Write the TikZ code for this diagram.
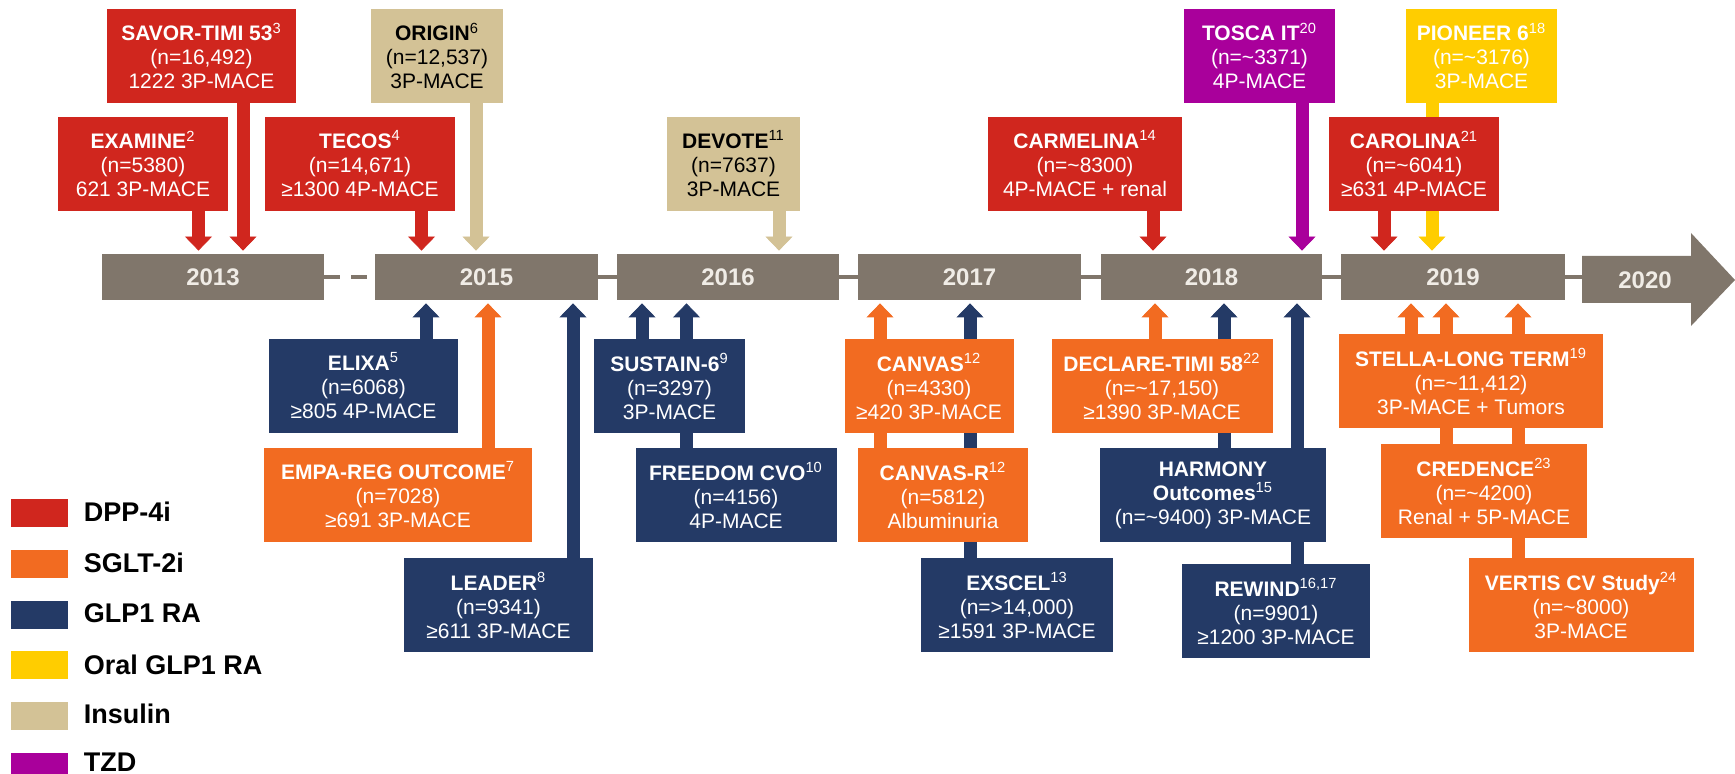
\documentclass[tikz,border=0pt]{standalone}
\usepackage{fontspec}
\setmainfont{Liberation Sans}
\usetikzlibrary{positioning, arrows.meta, backgrounds}

\definecolor{dppred}{RGB}{208,38,30}
\definecolor{sgltorange}{RGB}{242,107,33}
\definecolor{glpnavy}{RGB}{36,58,102}
\definecolor{oralyellow}{RGB}{255,205,0}
\definecolor{insulintan}{RGB}{211,194,150}
\definecolor{tzdpurple}{RGB}{169,0,155}
\definecolor{bargray}{RGB}{128,118,107}
\definecolor{yeartext}{RGB}{240,236,230}

\newcommand{\refmark}[1]{\textsuperscript{\mdseries #1}}

\begin{document}
\begin{tikzpicture}[x=0.5pt, y=-0.5pt,
	trial/.style={rectangle, inner sep=0pt, minimum height=47pt, align=center, text=white, font=\fontsize{10.5}{12}\selectfont},
	dppbox/.style={trial, fill=dppred},
	sgltbox/.style={trial, fill=sgltorange},
	glpbox/.style={trial, fill=glpnavy},
	oralbox/.style={trial, fill=oralyellow},
	insbox/.style={trial, fill=insulintan, text=black},
	tzdbox/.style={trial, fill=tzdpurple},
	yearbar/.style={rectangle, inner sep=0pt, minimum height=23pt, fill=bargray, text=yeartext, font=\bfseries\fontsize{12}{14}\selectfont},
	link/.style={draw=bargray, line width=2pt},
	toyear/.style={line width=6.5pt, -{Triangle[width=13.5pt, length=7pt, line width=0.4pt]}, shorten >=1.5pt},
	swatch/.style={rectangle, inner sep=0pt, minimum width=28.5pt, minimum height=14pt},
	legtext/.style={inner sep=0pt, yshift=0.5pt, font=\bfseries\fontsize{13.5}{16}\selectfont}]
	\useasboundingbox (0,0) rectangle (1735,774);

	\node (y2013) [yearbar, minimum width=111pt] at (213,277) {2013};
	\node (y2015) [yearbar, minimum width=111.5pt] at (486.5,277) {2015};
	\node (y2016) [yearbar, minimum width=111pt] at (728,277) {2016};
	\node (y2017) [yearbar, minimum width=111.5pt] at (969.5,277) {2017};
	\node (y2018) [yearbar, minimum width=110.5pt] at (1211.5,277) {2018};
	\node (y2019) [yearbar, minimum width=112pt] at (1453,277) {2019};
	\fill [bargray] (1582,256) -- (1691,256) -- (1691,233) -- (1735,280) -- (1691,326) -- (1691,303) -- (1582,303) -- cycle;
	\coordinate (tail) at (1582,277);
	\node (y2020) [yearbar, fill=none] at (1645,280) {2020};
	\path
		(y2013) edge [link, dash pattern=on 8pt off 5.5pt] (y2015)
		(y2015) edge [link] (y2016)
		(y2016) edge [link] (y2017)
		(y2017) edge [link] (y2018)
		(y2018) edge [link] (y2019)
		(y2019) edge [link] (tail)
	;

	\node (savor) [dppbox, minimum width=94.5pt] at (201.5,56) {\textbf{SAVOR-TIMI 53\refmark{3}}\\(n=16,492)\\1222 3P-MACE};
	\node (origin) [insbox, minimum width=66pt] at (437,56) {\textbf{ORIGIN\refmark{6}}\\(n=12,537)\\3P-MACE};
	\node (tosca) [tzdbox, minimum width=75.5pt] at (1259.5,56) {\textbf{TOSCA IT\refmark{20}}\\(n=\textasciitilde 3371)\\4P-MACE};
	\node (pioneer) [oralbox, minimum width=75.5pt] at (1481.5,56) {\textbf{PIONEER 6\refmark{18}}\\(n=\textasciitilde 3176)\\3P-MACE};
	\node (examine) [dppbox, minimum width=85pt] at (143,164) {\textbf{EXAMINE\refmark{2}}\\(n=5380)\\621 3P-MACE};
	\node (tecos) [dppbox, minimum width=95pt] at (360,164) {\textbf{TECOS\refmark{4}}\\(n=14,671)\\≥1300 4P-MACE};
	\node (devote) [insbox, minimum width=66.5pt] at (733.5,164) {\textbf{DEVOTE\refmark{11}}\\(n=7637)\\3P-MACE};
	\node (carmelina) [dppbox, minimum width=97pt] at (1085,164) {\textbf{CARMELINA\refmark{14}}\\(n=\textasciitilde 8300)\\4P-MACE + renal};
	\node (carolina) [dppbox, minimum width=85pt] at (1414,164) {\textbf{CAROLINA\refmark{21}}\\(n=\textasciitilde 6041)\\≥631 4P-MACE};

	\node (elixa) [glpbox, minimum width=94.5pt] at (363.5,386) {\textbf{ELIXA\refmark{5}}\\(n=6068)\\≥805 4P-MACE};
	\node (sustain) [glpbox, minimum width=75.5pt] at (669.5,386) {\textbf{SUSTAIN-6\refmark{9}}\\(n=3297)\\3P-MACE};
	\node (canvas) [sgltbox, minimum width=84.5pt] at (929,386) {\textbf{CANVAS\refmark{12}}\\(n=4330)\\≥420 3P-MACE};
	\node (declare) [sgltbox, minimum width=110.5pt] at (1162,386) {\textbf{DECLARE-TIMI 58\refmark{22}}\\(n=\textasciitilde 17,150)\\≥1390 3P-MACE};
	\node (stella) [sgltbox, minimum width=132pt] at (1471,381) {\textbf{STELLA-LONG TERM\refmark{19}}\\(n=\textasciitilde 11,412)\\3P-MACE + Tumors};
	\node (empareg) [sgltbox, minimum width=134pt] at (398,495) {\textbf{EMPA-REG OUTCOME\refmark{7}}\\(n=7028)\\≥691 3P-MACE};
	\node (freedom) [glpbox, minimum width=100.5pt] at (736,495) {\textbf{FREEDOM CVO\refmark{10}}\\(n=4156)\\4P-MACE};
	\node (canvasr) [sgltbox, minimum width=85pt] at (943,495) {\textbf{CANVAS-R\refmark{12}}\\(n=5812)\\Albuminuria};
	\node (harmony) [glpbox, minimum width=113pt] at (1213,495) {\textbf{HARMONY}\\\textbf{Outcomes\refmark{15}}\\(n=\textasciitilde 9400) 3P-MACE};
	\node (credence) [sgltbox, minimum width=103pt] at (1484,491) {\textbf{CREDENCE\refmark{23}}\\(n=\textasciitilde 4200)\\Renal + 5P-MACE};
	\node (leader) [glpbox, minimum width=94.5pt] at (498.5,605) {\textbf{LEADER\refmark{8}}\\(n=9341)\\≥611 3P-MACE};
	\node (exscel) [glpbox, minimum width=96pt] at (1017,605) {\textbf{EXSCEL\refmark{13}}\\(n=>14,000)\\≥1591 3P-MACE};
	\node (rewind) [glpbox, minimum width=94pt] at (1276,611) {\textbf{REWIND\refmark{16,17}}\\(n=9901)\\≥1200 3P-MACE};
	\node (vertis) [sgltbox, minimum width=112.5pt] at (1581,605) {\textbf{VERTIS CV Study\refmark{24}}\\(n=\textasciitilde 8000)\\3P-MACE};

	\node (kdpp) [swatch, fill=dppred] at (39.5,513) {};
	\node (ksglt) [swatch, fill=sgltorange, below=11pt of kdpp] {};
	\node (kglp) [swatch, fill=glpnavy, below=11pt of ksglt] {};
	\node (koral) [swatch, fill=oralyellow, below=11pt of kglp] {};
	\node (kins) [swatch, fill=insulintan, below=11pt of koral] {};
	\node (ktzd) [swatch, fill=tzdpurple, below=11pt of kins] {};
	\node (tdpp) [legtext, right=7.5pt of kdpp] {DPP-4i};
	\node (tsglt) [legtext, right=7.5pt of ksglt] {SGLT-2i};
	\node (tglp) [legtext, right=7.5pt of kglp] {GLP1 RA};
	\node (toral) [legtext, right=7.5pt of koral] {Oral GLP1 RA};
	\node (tins) [legtext, right=7.5pt of kins, yshift=0.5pt] {Insulin};
	\node (ttzd) [legtext, right=7.5pt of ktzd, yshift=2pt] {TZD};

	\begin{scope}[on background layer]
	\path
		(examine.south -| 198.5,0) edge [toyear, dppred] (y2013.north -| 198.5,0)
		(savor.south -| 243,0) edge [toyear, dppred] (y2013.north -| 243,0)
		(tecos.south -| 421.5,0) edge [toyear, dppred] (y2015.north -| 421.5,0)
		(origin.south -| 476,0) edge [toyear, insulintan] (y2015.north -| 476,0)
		(devote.south -| 779,0) edge [toyear, insulintan] (y2016.north -| 779,0)
		(carmelina.south -| 1153,0) edge [toyear, dppred] (y2018.north -| 1153,0)
		(tosca.south -| 1302,0) edge [toyear, tzdpurple] (y2018.north -| 1302,0)
		(carolina.south -| 1384,0) edge [toyear, dppred] (y2019.north -| 1384,0)
		(pioneer.south -| 1432,0) edge [toyear, oralyellow] (y2019.north -| 1432,0)
		(elixa.north -| 426,0) edge [toyear, glpnavy] (y2015.south -| 426,0)
		(empareg.north -| 488,0) edge [toyear, sgltorange] (y2015.south -| 488,0)
		(leader.north -| 573,0) edge [toyear, glpnavy] (y2015.south -| 573,0)
		(sustain.north -| 642,0) edge [toyear, glpnavy] (y2016.south -| 642,0)
		(freedom.north -| 686.5,0) edge [toyear, glpnavy] (y2016.south -| 686.5,0)
		(canvasr.north -| 880,0) edge [toyear, sgltorange] (y2017.south -| 880,0)
		(exscel.north -| 970,0) edge [toyear, glpnavy] (y2017.south -| 970,0)
		(declare.north -| 1155,0) edge [toyear, sgltorange] (y2018.south -| 1155,0)
		(harmony.north -| 1224,0) edge [toyear, glpnavy] (y2018.south -| 1224,0)
		(rewind.north -| 1297,0) edge [toyear, glpnavy] (y2018.south -| 1297,0)
		(stella.north -| 1411,0) edge [toyear, sgltorange] (y2019.south -| 1411,0)
		(credence.north -| 1446,0) edge [toyear, sgltorange] (y2019.south -| 1446,0)
		(vertis.north -| 1518,0) edge [toyear, sgltorange] (y2019.south -| 1518,0)
	;
	\end{scope}
\end{tikzpicture}
\end{document}
